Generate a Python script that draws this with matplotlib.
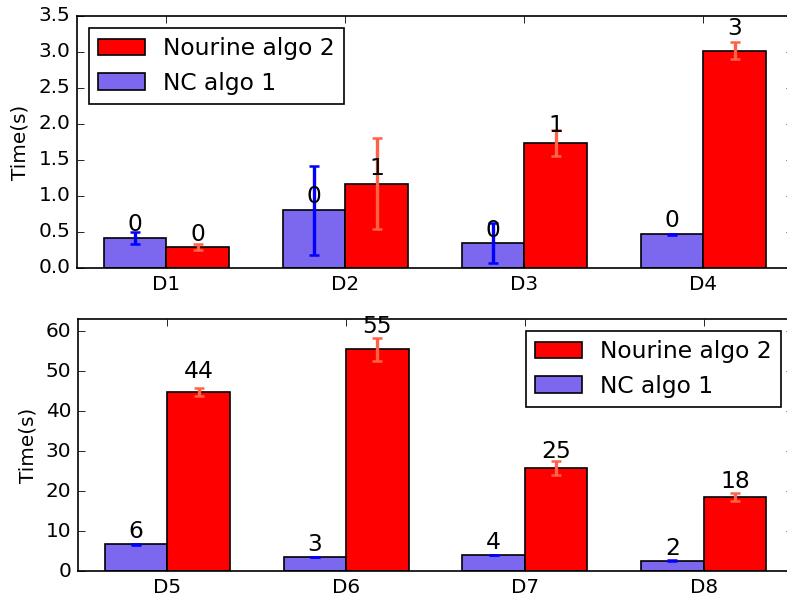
import numpy as np
import matplotlib
matplotlib.use("Agg")
from matplotlib import pyplot as plt

plt.style.use('classic')

labels_top = ['D1', 'D2', 'D3', 'D4']
nc_top = [0.42, 0.80, 0.35, 0.47]
nc_top_err = [0.08, 0.62, 0.28, 0.005]
nour_top = [0.29, 1.17, 1.73, 3.02]
nour_top_err = [0.04, 0.63, 0.18, 0.12]

labels_bot = ['D5', 'D6', 'D7', 'D8']
nc_bot = [6.7, 3.5, 4.0, 2.6]
nc_bot_err = [0.15, 0.05, 0.1, 0.15]
nour_bot = [44.75, 55.4, 25.7, 18.5]
nour_bot_err = [1.05, 2.8, 1.7, 0.9]

width = 0.35
ind = np.arange(4)

DPI = 120
fig = plt.figure(figsize=(787 / DPI, 599 / DPI), dpi=DPI)
ax1 = fig.add_axes([0.0978, 0.5526, 0.9098, 0.4207])
ax2 = fig.add_axes([0.0991, 0.0467, 0.9085, 0.4207])


def draw(ax, nc, nc_err, nour, nour_err, labels, ylim, loc):
    r1 = ax.bar(ind, nc, width, align='edge', color='#7b68ee',
                yerr=nc_err, error_kw=dict(ecolor='blue', elinewidth=2,
                                           capsize=3, capthick=1.5))
    r2 = ax.bar(ind + width, nour, width, align='edge', color='red',
                yerr=nour_err, error_kw=dict(ecolor='tomato', elinewidth=2,
                                             capsize=3, capthick=1.5))
    ax.set_ylabel('Time(s)', fontsize=12)
    ax.set_xticks(ind + width)
    ax.set_xticklabels(labels, fontsize=12)
    ax.tick_params(labelsize=12)
    ax.set_xlim(-0.15, 3.85)
    ax.set_ylim(*ylim)
    ax.legend((r2[0], r1[0]), ('Nourine algo 2', 'NC algo 1'), loc=loc,
              fontsize=14)
    for rects in (r1, r2):
        for rect in rects:
            h = rect.get_height()
            ax.text(rect.get_x() + rect.get_width() / 2., 1.05 * h,
                    '%d' % int(h), ha='center', va='bottom', fontsize=14)


draw(ax1, nc_top, nc_top_err, nour_top, nour_top_err, labels_top,
     (0, 3.5), 'upper left')
draw(ax2, nc_bot, nc_bot_err, nour_bot, nour_bot_err, labels_bot,
     (0, 63), 'upper right')

fig.savefig('out.png', dpi=DPI)
